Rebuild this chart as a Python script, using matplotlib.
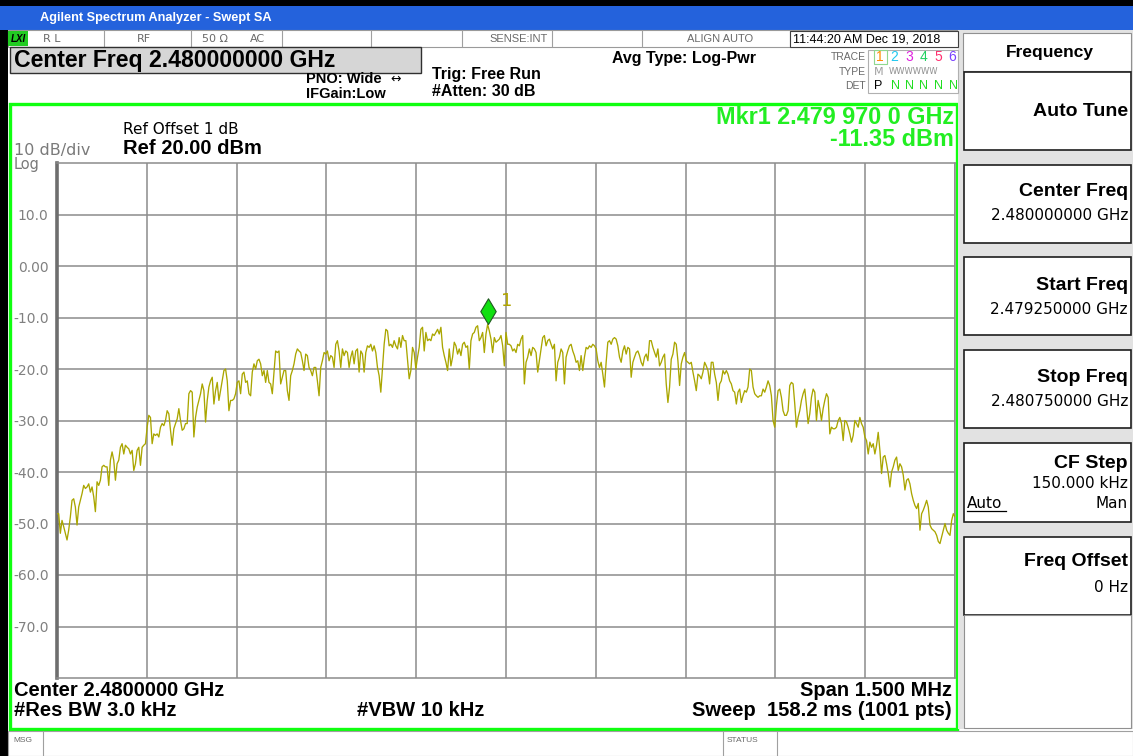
import numpy as np
import matplotlib.pyplot as plt
from matplotlib.patches import Rectangle
from matplotlib.path import Path

# sweep setup
start_ghz = 2.479250
stop_ghz = 2.480750
ref_dbm = 20.0
div_db = 10.0
n_div = 10

ytick_vals = [10, 0, -10, -20, -30, -40, -50, -60, -70]
ytick_text = ['10.0', '0.00', '-10.0', '-20.0', '-30.0', '-40.0', '-50.0', '-60.0', '-70.0']

mkr_ghz = 2.479970
mkr_dbm = -11.35

# trace 1 levels (dBm), lower / middle / upper part of the span
trace_low = [
    -48.1, -48.1, -51.9, -49.4, -50.6, -51.9, -53.2, -51.3, -48.7, -45.5,
    -45.2, -46.8, -50.3, -46.8, -45.5, -44.2, -42.6, -43.2, -42.9, -42.3,
    -43.9, -42.9, -44.8, -47.7, -41.9, -42.6, -41.6, -39.0, -38.7, -39.0,
    -39.0, -42.6, -37.7, -36.1, -37.7, -41.6, -38.4, -37.7, -35.2, -34.5,
    -36.5, -34.8, -35.2, -35.5, -36.5, -35.8, -39.7, -38.4, -35.8, -35.2,
    -38.7, -35.2, -34.8, -34.5, -31.3, -29.0, -29.4, -34.5, -32.6, -32.9,
    -32.6, -33.2, -31.3, -30.6, -31.0, -30.0, -28.1, -28.7, -31.9, -34.8,
    -31.6, -30.6, -29.7, -27.7, -30.0, -31.9, -31.6, -30.6, -30.6, -24.8,
    -24.2, -24.5, -33.2, -29.4, -27.4, -26.1, -24.8, -22.9, -24.2, -30.3,
    -26.1, -23.5, -22.3, -21.6, -26.8, -24.2, -22.6, -26.1, -24.2, -22.3,
    -20.3, -20.0, -22.3, -28.1, -26.1, -26.1, -25.8, -24.8, -22.6, -22.3,
    -24.8, -21.0, -20.6, -22.6, -22.3, -24.8, -25.2, -20.6, -19.0, -20.0,
    -18.4, -18.1, -19.0, -21.3, -20.3, -22.6, -20.3, -22.6, -22.9, -24.8,
    -20.6, -16.5, -16.8, -16.5, -22.9, -21.6, -20.3, -20.3, -24.2, -26.1,
    -21.3, -20.3, -19.0, -17.1, -16.1, -16.5, -16.8, -18.4, -20.3, -17.1,
    -17.4, -19.7, -20.3, -21.3, -19.7, -19.7, -22.3, -25.2, -19.7, -18.4,
    -16.8, -17.1, -16.5, -18.4, -17.4, -17.7, -19.7, -15.2, -14.5, -16.5,
    -19.7, -16.1, -17.4, -16.5, -16.8, -19.7, -17.7, -16.5, -19.0, -16.5,
    -16.1, -20.6,
]
trace_mid = [
    -16.5, -17.1, -20.6, -16.8, -15.5, -15.8, -15.2, -16.5, -15.5, -16.8,
    -19.7, -21.3, -24.5, -20.0, -15.2, -12.3, -12.6, -15.5, -15.2, -15.8,
    -14.5, -15.5, -16.1, -13.9, -15.8, -13.5, -14.5, -14.5, -18.1, -21.9,
    -20.3, -15.8, -16.8, -20.0, -17.7, -15.8, -12.3, -11.9, -16.5, -12.9,
    -14.5, -14.2, -14.5, -13.2, -13.5, -12.9, -12.3, -13.2, -11.9, -15.8,
    -17.4, -18.7, -20.3, -16.1, -19.4, -17.7, -14.8, -15.5, -17.1, -16.1,
    -17.4, -15.2, -14.8, -15.8, -15.5, -20.0, -14.5, -13.2, -12.9, -11.9,
    -11.6, -14.5, -13.9, -12.9, -16.8, -13.2, -11.35, -12.6, -14.2, -16.8,
    -13.9, -14.8, -14.5, -14.2, -13.5, -15.5, -19.4, -12.9, -15.2, -15.2,
    -15.5, -16.5, -16.1, -16.8, -15.2, -15.5, -14.2, -13.5, -22.9, -18.7,
    -17.7, -16.1, -17.4, -15.8, -16.1, -16.8, -20.6, -18.4, -16.1, -13.9,
    -13.5, -15.5, -14.5, -14.2, -15.2, -16.1, -15.2, -22.3, -18.7, -17.7,
    -16.1, -16.8, -22.9, -17.7, -16.5, -15.5, -15.2, -16.5, -17.4, -18.7,
    -18.4, -20.3, -17.4, -20.3, -17.7, -15.8, -16.1, -15.5, -15.8, -15.2,
    -15.5, -16.1, -18.4, -19.7, -18.7, -21.0, -23.5, -18.7, -14.8, -14.5,
    -15.2, -14.2, -13.9, -14.2, -15.5, -17.7, -18.7, -16.5, -15.5, -17.1,
    -15.8, -16.1, -21.6, -18.7, -17.7, -16.8, -16.5, -17.4, -18.7, -19.4,
    -17.7, -17.1, -18.4, -14.5, -14.5, -15.8, -16.8, -17.7, -16.1, -19.4,
]
trace_high = [
    -18.7, -17.7, -17.1, -22.9, -26.5, -23.5, -18.1, -17.1, -14.8, -15.2,
    -18.4, -23.2, -19.0, -17.7, -16.8, -18.4, -18.7, -19.0, -18.7, -20.6,
    -22.3, -24.2, -21.0, -21.3, -21.9, -20.6, -18.7, -19.4, -20.3, -22.9,
    -18.7, -18.7, -21.0, -22.6, -26.1, -22.9, -22.3, -20.3, -21.0, -20.3,
    -21.0, -22.3, -22.9, -24.2, -24.5, -26.8, -24.5, -23.9, -26.5, -25.2,
    -24.2, -24.5, -23.5, -20.0, -20.3, -23.5, -24.8, -25.2, -25.5, -25.2,
    -25.2, -23.9, -24.5, -23.5, -22.3, -23.2, -25.2, -30.0, -31.3, -27.1,
    -24.2, -23.9, -25.5, -28.1, -29.0, -29.0, -28.1, -23.2, -22.6, -22.9,
    -26.8, -31.3, -29.4, -28.1, -26.1, -24.8, -23.9, -27.1, -30.6, -28.7,
    -25.5, -23.9, -24.5, -30.0, -26.1, -27.7, -30.0, -27.7, -26.1, -24.8,
    -25.5, -32.6, -31.3, -31.6, -31.6, -31.3, -30.0, -29.4, -30.6, -33.9,
    -30.0, -30.3, -31.3, -32.6, -34.2, -32.9, -30.0, -30.6, -31.3, -29.4,
    -30.6, -31.3, -33.2, -33.9, -36.5, -34.2, -35.2, -34.5, -36.5, -34.8,
    -32.3, -35.8, -40.3, -37.1, -36.8, -38.4, -40.3, -42.9, -40.0, -39.0,
    -37.7, -37.1, -39.7, -38.4, -39.0, -40.6, -43.5, -41.6, -41.3, -42.3,
    -44.2, -45.5, -46.5, -47.1, -46.1, -51.3, -48.1, -47.4, -46.5, -45.5,
    -46.8, -50.3, -51.0, -51.3, -51.6, -52.3, -53.5, -53.9, -52.6, -51.3,
    -50.0, -51.3, -51.9, -52.3, -49.4, -48.1, -48.7,
]

W, H = 1133, 756
BOLD = 'Liberation Sans'
REG = 'DejaVu Sans'

fig = plt.figure(figsize=(W / 100, H / 100), dpi=100)
bg = fig.add_axes([0, 0, 1, 1])
bg.set_xlim(0, W)
bg.set_ylim(H, 0)
bg.axis('off')


def box(x0, y0, x1, y1, fc='white', ec='none', lw=1.0, z=1):
    bg.add_patch(Rectangle((x0, y0), x1 - x0, y1 - y0, facecolor=fc,
                           edgecolor=ec, linewidth=lw, zorder=z))


def vline(x, y0, y1, color='#a0a0a0', lw=0.8, z=2):
    bg.plot([x, x], [y0, y1], color=color, lw=lw, zorder=z, solid_capstyle='butt')


def txt(x, y, s, size, bold=False, color='black', ha='left', family=None, z=5, **kw):
    bg.text(x, y, s, fontsize=size, fontweight='bold' if bold else 'normal',
            color=color, ha=ha, va='center', family=family or (BOLD if bold else REG),
            zorder=z, **kw)


# window chrome
box(0, 0, W, 6, fc='black', z=1)
box(0, 6, W, 30, fc='#2462dc', z=1)
txt(40, 18, 'Agilent Spectrum Analyzer - Swept SA', 9.2, bold=True, color='white')
box(0, 30, 8, H, fc='black', z=1)

# status row
box(8, 30, 960, 47, fc='white', ec='#9a9a9a', lw=0.8)
for x in [104, 191, 282, 371, 462, 552, 642, 790]:
    vline(x, 30, 47)
box(790, 31, 958, 47, fc='white', ec='#404040', lw=0.8, z=2)
box(8, 31, 28, 46, fc='#22cc22', z=3)
txt(18, 38.5, 'LXI', 7, bold=True, ha='center', style='italic')
gray = '#6a6a6a'
txt(43, 39, 'R L', 8, color=gray)
txt(144, 39, 'RF', 8, color=gray, ha='center')
txt(202, 39, '50 Ω', 8, color=gray)
txt(250, 39, 'AC', 8, color=gray)
txt(548, 39, 'SENSE:INT', 8, color=gray, ha='right', family=BOLD)
txt(720, 39, 'ALIGN AUTO', 8, color=gray, ha='center', family=BOLD)
txt(793, 39, '11:44:20 AM Dec 19, 2018', 9, family=BOLD)

# setup line
box(10, 47, 421, 73, fc='#d6d6d6', ec='#303030', lw=1.0, z=2)
txt(14, 60.5, 'Center Freq 2.480000000 GHz', 16.6, bold=True)
txt(306, 79, 'PNO: Wide', 10.5, bold=True)
txt(390, 79, '↔', 9, family=REG)
txt(306, 94, 'IFGain:Low', 10.5, bold=True)
txt(432, 74, 'Trig: Free Run', 11.5, bold=True)
txt(432, 92, '#Atten: 30 dB', 11.5, bold=True)
txt(612, 58, 'Avg Type: Log-Pwr', 11.5, bold=True)

# trace / type / detector block
txt(866, 57, 'TRACE', 7.5, color=gray, ha='right', family=BOLD)
txt(866, 72, 'TYPE', 7.5, color=gray, ha='right', family=BOLD)
txt(866, 86, 'DET', 7.5, color=gray, ha='right', family=BOLD)
box(868, 50, 958, 93, fc='white', ec='#b0b0b0', lw=0.8, z=2)
box(874, 50, 887, 64, fc='none', ec='#8fd88f', lw=0.8, z=3)
trace_colors = ['#ff8c00', '#20c8f0', '#e020e0', '#20d060', '#ff3070', '#7a40ff']
for i, c in enumerate(trace_colors):
    txt(880 + i * 14.5, 57, str(i + 1), 10, color=c, ha='center', family=BOLD)
txt(874, 72, 'M', 8, color='#a0a0a0', family=REG)
txt(889, 72, 'W' * 6, 6, color='#909090', family=REG)
txt(874, 86, 'P', 9, family=BOLD)
for i in range(5):
    txt(895 + i * 14.5, 86, 'N', 9, color='#20dd20', ha='center', family=BOLD)

# green display frame
box(10, 104, 957, 729, fc='white', ec='#10ff10', lw=2.4, z=0.5)

txt(14, 150, '10 dB/div', 11.5, color='#7a7a7a')
txt(14, 164, 'Log', 10.5, color='#7a7a7a')
txt(123, 130, 'Ref Offset 1 dB', 11)
txt(123, 148, f'Ref {ref_dbm:.2f} dBm', 14.5, bold=True)

mk = f'{mkr_ghz:.7f}'
mkr_line1 = f'Mkr1 {mk[:5]} {mk[5:8]} {mk[8:]} GHz'
txt(954, 117, mkr_line1, 16.8, bold=True, color='#22ee22', ha='right')
txt(954, 140, f'{mkr_dbm:.2f} dBm', 16.8, bold=True, color='#22ee22', ha='right')

txt(14, 690, 'Center 2.4800000 GHz', 14.5, bold=True)
txt(952, 690, 'Span 1.500 MHz', 14.5, bold=True, ha='right')
txt(14, 711, '#Res BW 3.0 kHz', 14.5, bold=True)
txt(357, 711, '#VBW 10 kHz', 14.5, bold=True)
txt(952, 711, 'Sweep  158.2 ms (1001 pts)', 14.5, bold=True, ha='right')

# message bar
box(8, 731, W, H, fc='white', ec='#a0a0a0', lw=0.8)
for x in [43, 723, 777]:
    vline(x, 731, H)
txt(13, 741, 'MSG', 6, color=gray, family=BOLD)
txt(727, 741, 'STATUS', 6, color=gray, family=BOLD)

# softkey panel
box(958, 30, W, 729, fc='#e2e2e2')
box(963, 33, 1131, 71, fc='white', ec='#909090', lw=0.8, z=2)
txt(1050, 52, 'Frequency', 12.5, bold=True, ha='center')
keys = [(72, 150), (165, 243), (257, 335), (350, 428), (443, 522), (537, 615)]
for y0, y1 in keys:
    box(964, y0, 1131, y1, fc='white', ec='#1e1e1e', lw=1.2, z=2)
box(964, 615, 1131, 728, fc='white', ec='#909090', lw=0.8, z=2)

txt(1128, 112, 'Auto Tune', 14, bold=True, ha='right')
txt(1128, 192, 'Center Freq', 14, bold=True, ha='right')
txt(1128, 216, '2.480000000 GHz', 11, ha='right')
txt(1128, 285, 'Start Freq', 14, bold=True, ha='right')
txt(1128, 309, f'{start_ghz:.9f} GHz', 11, ha='right')
txt(1128, 378, 'Stop Freq', 14, bold=True, ha='right')
txt(1128, 402, f'{stop_ghz:.9f} GHz', 11, ha='right')
txt(1128, 463, 'CF Step', 14, bold=True, ha='right')
txt(1128, 483, '150.000 kHz', 11, ha='right')
txt(967, 503, 'Auto', 11)
bg.plot([967, 1006], [511, 511], color='black', lw=0.9, zorder=5)
txt(1128, 503, 'Man', 11, ha='right')
txt(1128, 562, 'Freq Offset', 14, bold=True, ha='right')
txt(1128, 588, '0 Hz', 11, ha='right')

# graticule
L, R, T, B = 57, 955, 163, 678
ax = fig.add_axes([L / W, 1 - B / H, (R - L) / W, (B - T) / H])
ax.set_facecolor('white')
ax.set_xlim(start_ghz, stop_ghz)
ax.set_ylim(ref_dbm - n_div * div_db, ref_dbm)
ax.set_xticks(np.linspace(start_ghz, stop_ghz, n_div + 1))
ax.set_yticks(ytick_vals, ytick_text)
ax.tick_params(length=0, labelbottom=False, pad=6, labelsize=10, labelcolor='#808080')
for lab in ax.get_yticklabels():
    lab.set_family(REG)
ax.grid(True, color='#8c8c8c', lw=1.1)
for s in ax.spines.values():
    s.set_color('#8c8c8c')
    s.set_linewidth(1.1)
ax.spines['left'].set_color('#6e6e6e')
ax.spines['left'].set_linewidth(2.6)

level = np.array(trace_low + trace_mid + trace_high)
freq = np.linspace(start_ghz, stop_ghz, len(level))
ax.plot(freq, level, color='#aaa600', lw=0.95, zorder=3)

# marker 1: diamond sitting on the trace point
diamond = Path([(0, 0), (-0.6, 1), (0, 2), (0.6, 1), (0, 0)],
               [Path.MOVETO, Path.LINETO, Path.LINETO, Path.LINETO, Path.CLOSEPOLY])
ax.plot([mkr_ghz], [mkr_dbm], marker=diamond, ms=37, mfc='#10e010', mec='#205a20',
        mew=0.8, ls='none', zorder=5, clip_on=False)
ax.annotate('1', (mkr_ghz, mkr_dbm), xytext=(9, 17), textcoords='offset points',
            color='#b0a400', fontsize=13, family=REG, va='center', zorder=6)

fig.savefig('out.png', dpi=100)
